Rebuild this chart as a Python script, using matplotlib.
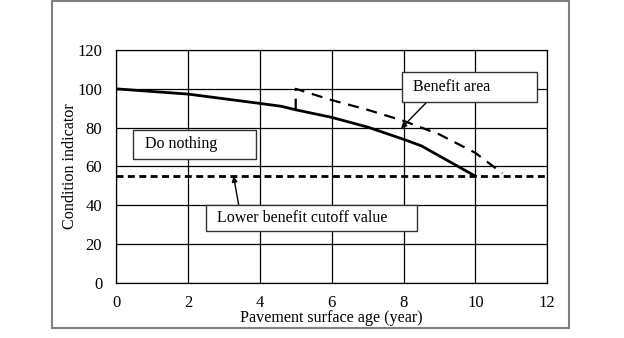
import matplotlib.pyplot as plt
from matplotlib.patches import Rectangle

plt.rcParams['font.family'] = ['Liberation Serif', 'DejaVu Serif']

# do-nothing deterioration curve
age = [0, 2, 4, 4.6, 5, 6, 7, 8, 8.5, 9, 10]
ci = [100, 97.3, 92.5, 91, 89.2, 85.3, 80.3, 74, 70.6, 65.4, 55]

# curve after treatment at year 5
age_treat = [5, 5, 6, 7, 8, 9, 10, 10.75]
ci_treat = [89.2, 100, 94.2, 89.2, 83.5, 76.5, 67, 56.5]

cutoff = 55
xticks = [0, 2, 4, 6, 8, 10, 12]
yticks = [0, 20, 40, 60, 80, 100, 120]

fig = plt.figure(figsize=(6.24, 3.38), dpi=100)
ax = fig.add_axes([0.186, 0.163, 0.691, 0.689])

ax.set_xlim(0, 12)
ax.set_ylim(0, 120)
ax.set_xticks(xticks)
ax.set_yticks(yticks)
ax.grid(True, color='black', linewidth=0.9)
ax.set_axisbelow(True)
for s in ax.spines.values():
    s.set_linewidth(0.9)
ax.tick_params(length=0, labelsize=12)
ax.tick_params(axis='y', pad=10)
ax.tick_params(axis='x', pad=8.5)

ax.plot(age, ci, color='black', linewidth=2)
ax.plot(age_treat, ci_treat, color='black', linewidth=1.6, dashes=(5, 3.5))
ax.axhline(cutoff, color='black', linewidth=2, dashes=(2.5, 1.6))

ax.set_xlabel('Pavement surface age (year)', fontsize=11.6, va='center')
ax.set_ylabel('Condition indicator', fontsize=11.6, va='center')
ax.xaxis.set_label_coords(0.5, -0.152)
ax.yaxis.set_label_coords(-0.107, 0.5)

# label boxes
def box(x0, y0, x1, y1, txt, tx, ty):
    ax.add_patch(Rectangle((x0, y0), x1 - x0, y1 - y0, facecolor='white',
                           edgecolor='#333333', linewidth=1, zorder=5, clip_on=False))
    ax.text(tx, ty, txt, fontsize=11.5, va='center', ha='left', zorder=6)

box(0.48, 64.1, 3.89, 79.0, 'Do nothing', 0.8, 71.5)
box(7.96, 93.2, 11.72, 108.7, 'Benefit area', 8.27, 101.2)
box(2.49, 26.8, 8.38, 40.4, 'Lower benefit cutoff value', 2.8, 33.6)

arr = dict(arrowstyle='-|>', color='black', linewidth=1, mutation_scale=8, shrinkA=0, shrinkB=0)
ax.annotate('', xy=(7.93, 79.6), xytext=(8.65, 93.2), arrowprops=arr)
ax.annotate('', xy=(3.27, 55.0), xytext=(3.41, 40.4), arrowprops=arr)

# outer frame
fig.add_artist(Rectangle((52 / 624, 1 - 328 / 338), (569 - 52) / 624, 327 / 338,
                         transform=fig.transFigure, fill=False,
                         edgecolor='#808080', linewidth=1.5))

fig.savefig('out.png', dpi=100)
